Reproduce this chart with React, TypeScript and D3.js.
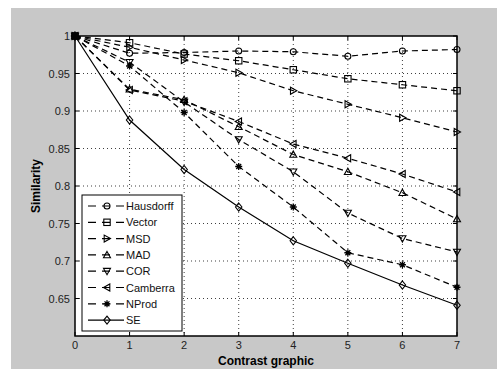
import React from "react";
import * as d3 from "d3";

// contrast levels on the x axis
const contrast = [0, 1, 2, 3, 4, 5, 6, 7];

// similarity series, one per measure
const hausdorff = [1, 0.977, 0.978, 0.98, 0.979, 0.973, 0.98, 0.982];
const vector = [1, 0.991, 0.976, 0.967, 0.955, 0.943, 0.935, 0.927];
const msd = [1, 0.985, 0.968, 0.951, 0.927, 0.909, 0.891, 0.872];
const mad = [1, 0.929, 0.915, 0.879, 0.842, 0.819, 0.791, 0.756];
const cor = [1, 0.965, 0.912, 0.862, 0.819, 0.764, 0.73, 0.712];
const camberra = [1, 0.928, 0.913, 0.886, 0.856, 0.837, 0.816, 0.792];
const nprod = [1, 0.96, 0.898, 0.826, 0.772, 0.711, 0.695, 0.665];
const se = [1, 0.888, 0.822, 0.772, 0.727, 0.697, 0.668, 0.641];

const seriesNames = ["Hausdorff", "Vector", "MSD", "MAD", "COR", "Camberra", "NProd", "SE"];
const seriesValues = [hausdorff, vector, msd, mad, cor, camberra, nprod, se];
const markerKinds = ["o", "s", ">", "^", "v", "<", "*", "d"];

const xTicks = [0, 1, 2, 3, 4, 5, 6, 7];
const yTicks = [0.65, 0.7, 0.75, 0.8, 0.85, 0.9, 0.95, 1];

const W = 497;
const H = 369;
const left = 75, right = 457, top = 36, bottom = 336;

// draws a matlab-ish marker centred on cx, cy
function Marker({ kind, cx, cy }: { kind: string; cx: number; cy: number }) {
  const s = 3.5;
  const st = { fill: "none", stroke: "#000", strokeWidth: 1.1 };
  if (kind === "o") return <circle cx={cx} cy={cy} r={3} {...st} />;
  if (kind === "s") return <rect x={cx - 3.2} y={cy - 3.2} width={6.4} height={6.4} {...st} />;
  if (kind === "d") return <path d={`M${cx},${cy - 4}L${cx + 3.2},${cy}L${cx},${cy + 4}L${cx - 3.2},${cy}Z`} {...st} />;
  if (kind === "^") return <path d={`M${cx},${cy - s}L${cx + s},${cy + s * 0.8}L${cx - s},${cy + s * 0.8}Z`} {...st} />;
  if (kind === "v") return <path d={`M${cx},${cy + s}L${cx + s},${cy - s * 0.8}L${cx - s},${cy - s * 0.8}Z`} {...st} />;
  if (kind === ">") return <path d={`M${cx + s},${cy}L${cx - s * 0.8},${cy - s}L${cx - s * 0.8},${cy + s}Z`} {...st} />;
  if (kind === "<") return <path d={`M${cx - s},${cy}L${cx + s * 0.8},${cy - s}L${cx + s * 0.8},${cy + s}Z`} {...st} />;
  // asterisk
  const a = 3.5;
  return (
    <path
      d={`M${cx - a},${cy}L${cx + a},${cy}M${cx},${cy - a}L${cx},${cy + a}M${cx - a * 0.7},${cy - a * 0.7}L${cx + a * 0.7},${cy + a * 0.7}M${cx - a * 0.7},${cy + a * 0.7}L${cx + a * 0.7},${cy - a * 0.7}`}
      stroke="#000"
      strokeWidth={1.3}
      fill="none"
    />
  );
}

export default function App() {
  const x = d3.scaleLinear().domain([0, 7]).range([left, right]);
  const y = d3.scaleLinear().domain([0.6, 1]).range([bottom, top]);

  const line = d3
    .line<number>()
    .x((_, i) => x(contrast[i]))
    .y((d) => y(d));

  const font = "'Liberation Sans', Arial, sans-serif";
  const legX = 82, legY = 195, legW = 100, legH = 136;
  const rowH = 16.3;

  return (
    <svg width={W} height={H} style={{ position: "absolute", left: 0, top: 0 }} fontFamily={font}>
      <rect x={11} y={8} width={W - 11} height={H - 8} fill="#c8c8c8" />
      <rect x={left} y={top} width={right - left} height={bottom - top} fill="#fff" />

      {/* grid */}
      {xTicks.slice(1, -1).map((t) => (
        <line key={"gx" + t} x1={x(t)} x2={x(t)} y1={top} y2={bottom} stroke="#000" strokeWidth={1} strokeDasharray="1,3" opacity={0.75} />
      ))}
      {yTicks.slice(0, -1).map((t) => (
        <line key={"gy" + t} x1={left} x2={right} y1={y(t)} y2={y(t)} stroke="#000" strokeWidth={1} strokeDasharray="1,3" opacity={0.75} />
      ))}

      {/* series */}
      {seriesValues.map((vals, k) => (
        <g key={seriesNames[k]}>
          <path
            d={line(vals) || ""}
            fill="none"
            stroke="#000"
            strokeWidth={1.2}
            strokeDasharray={markerKinds[k] === "d" ? undefined : "6,4"}
          />
          {vals.map((v, i) => (
            <Marker key={i} kind={markerKinds[k]} cx={x(contrast[i])} cy={y(v)} />
          ))}
        </g>
      ))}

      {/* axes box and inward ticks */}
      <rect x={left} y={top} width={right - left} height={bottom - top} fill="none" stroke="#000" strokeWidth={1.5} />
      {xTicks.map((t) => (
        <g key={"tx" + t}>
          <line x1={x(t)} x2={x(t)} y1={bottom} y2={bottom - 4} stroke="#000" />
          <line x1={x(t)} x2={x(t)} y1={top} y2={top + 4} stroke="#000" />
          <text x={x(t)} y={bottom + 13} textAnchor="middle" fontSize={11} fill="#222">
            {t}
          </text>
        </g>
      ))}
      {yTicks.map((t) => (
        <g key={"ty" + t}>
          <line x1={left} x2={left + 4} y1={y(t)} y2={y(t)} stroke="#000" />
          <line x1={right} x2={right - 4} y1={y(t)} y2={y(t)} stroke="#000" />
          <text x={left - 5} y={y(t) + 4} textAnchor="end" fontSize={11} fill="#222">
            {d3.format("")(t)}
          </text>
        </g>
      ))}

      <text x={(left + right) / 2} y={365} textAnchor="middle" fontSize={12} fontWeight="bold">
        Contrast graphic
      </text>
      <text
        transform={`translate(40,${(top + bottom) / 2}) rotate(-90)`}
        textAnchor="middle"
        fontSize={12}
        fontWeight="bold"
      >
        Similarity
      </text>

      {/* legend */}
      <rect x={legX} y={legY} width={legW} height={legH} fill="#fff" stroke="#000" strokeWidth={1} />
      {seriesNames.map((name, k) => {
        const cy = legY + 11 + k * rowH;
        return (
          <g key={"lg" + name}>
            <line
              x1={legX + 6}
              x2={legX + 42}
              y1={cy}
              y2={cy}
              stroke="#000"
              strokeWidth={1.2}
              strokeDasharray={markerKinds[k] === "d" ? undefined : "8,6"}
            />
            <Marker kind={markerKinds[k]} cx={legX + 25} cy={cy} />
            <text x={legX + 44} y={cy + 4} fontSize={11} fill="#111">
              {name}
            </text>
          </g>
        );
      })}
    </svg>
  );
}
